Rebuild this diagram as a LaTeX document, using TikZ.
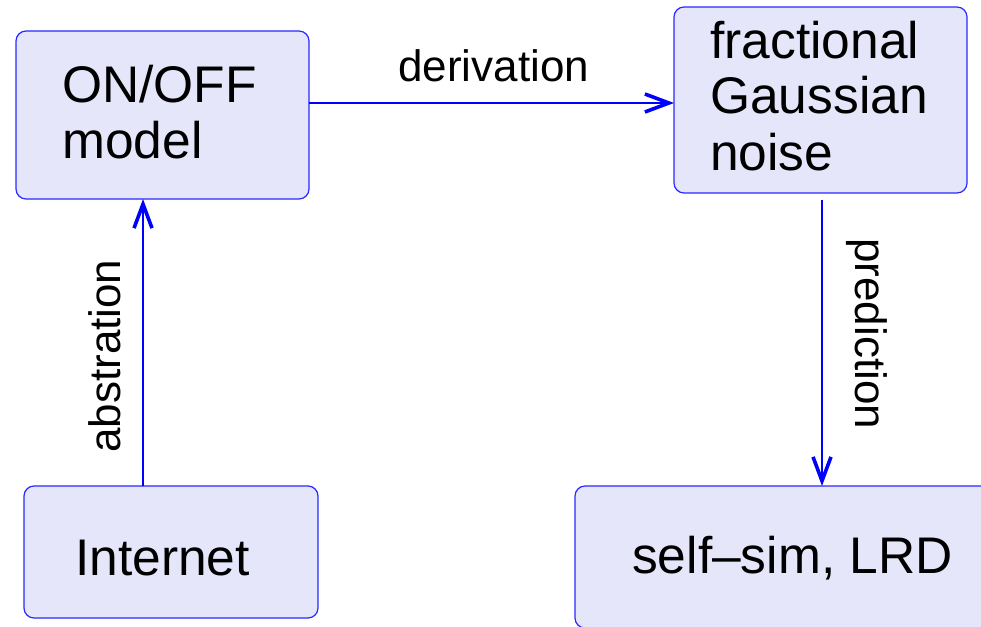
\documentclass[tikz,border=0pt]{standalone}
\usepackage{fontspec}
\setmainfont{Liberation Sans}
\usetikzlibrary{arrows.meta}
\definecolor{boxfill}{RGB}{230,230,250}
\definecolor{boxline}{RGB}{40,40,255}
\definecolor{conline}{RGB}{0,0,255}
\begin{document}
\begin{tikzpicture}[x=1pt,y=-1pt,
  block/.style={draw=boxline,fill=boxfill,line width=1.2pt,rounded corners=10pt,
    inner sep=0pt,outer sep=0pt},
  boxtext/.style={anchor=base west,inner sep=0pt,font=\fontsize{51.5}{58}\selectfont},
  labeltext/.style={anchor=base west,inner sep=0pt,font=\fontsize{44}{50}\selectfont},
  conn/.style={draw=conline,line width=1.1pt,
    -{Straight Barb[length=24pt,width=18pt,line width=3.6pt]}}]
\clip (0,0) rectangle (981,626);
\useasboundingbox (0,0) rectangle (981,626);

% boxes
\node[block,minimum width=293pt,minimum height=168pt] (onoff) at (162.5,115) {};
\node[block,minimum width=293pt,minimum height=186pt] (fgn) at (820.5,100) {};
\node[block,minimum width=294pt,minimum height=132pt] (internet) at (171,552) {};
\node[block,minimum width=440pt,minimum height=142pt] (selfsim) at (795,557) {};

% box texts
\node[boxtext] (t1a) at (62,102) {ON/OFF};
\node[boxtext] (t1b) at (62,158) {model};
\node[boxtext] (t2a) at (710,59) {fractional};
\node[boxtext] (t2b) at (710,113) {Gaussian};
\node[boxtext] (t2c) at (710,170) {noise};
\node[boxtext] (t3) at (75,575) {Internet};
\node[boxtext] (t4) at (632,573) {self--sim, LRD};

% connectors
\draw[conn] ([yshift=12pt]onoff.east) -- ([yshift=12pt]onoff.east -| fgn.west);
\draw[conn] ([xshift=-28pt]internet.north) -- ([xshift=-28pt]internet.north |- onoff.south);
\draw[conn] ([xshift=1.5pt,yshift=-7pt]fgn.south) -- ([xshift=1.5pt]fgn.south |- selfsim.north);

% connector labels
\node[labeltext] (l1) at (398,81.5) {derivation};
\node[labeltext,rotate=90] (l2) at (120,453) {abstration};
\node[labeltext,rotate=-90] (l3) at (855,238) {prediction};
\end{tikzpicture}
\end{document}
